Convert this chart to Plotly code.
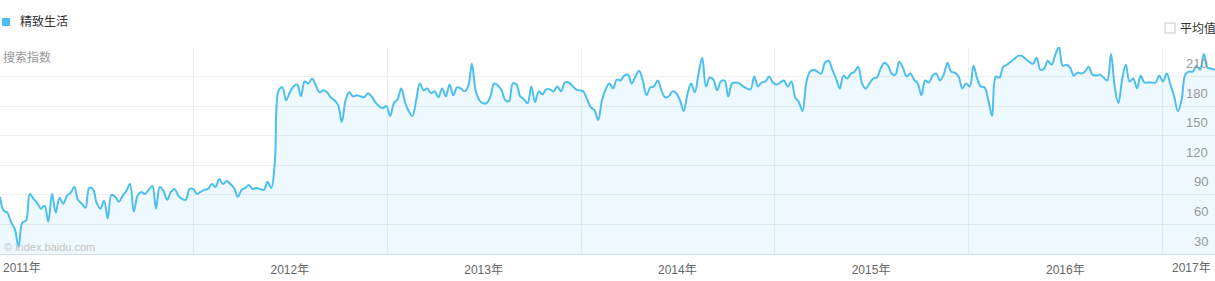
import pandas as pd
import plotly.graph_objects as go

series_name = "精致生活"
start_date = "2011-01-02"
values = [
    88, 74, 72, 62, 55, 37, 62, 64, 91, 86, 82, 76, 79, 63, 91, 72, 87, 81, 89, 92,
    98, 85, 81, 77, 97, 96, 82, 76, 84, 66, 90, 88, 83, 89, 94, 101, 73, 89, 93, 91,
    95, 99, 76, 98, 94, 85, 93, 96, 89, 86, 85, 96, 96, 91, 93, 95, 96, 101, 98, 106,
    101, 104, 101, 97, 88, 95, 97, 100, 96, 97, 96, 95, 103, 97, 125, 196, 199, 186, 194, 200,
    202, 190, 205, 203, 208, 201, 194, 196, 194, 189, 186, 181, 164, 186, 194, 190, 191, 190, 189, 193,
    190, 184, 180, 178, 180, 170, 183, 187, 198, 184, 175, 170, 186, 203, 196, 198, 193, 195, 189, 198,
    190, 202, 191, 199, 198, 195, 200, 223, 196, 186, 183, 183, 190, 203, 201, 196, 186, 185, 203, 202,
    190, 187, 183, 200, 184, 195, 192, 197, 197, 195, 200, 195, 204, 204, 201, 197, 196, 195, 187, 179,
    176, 166, 186, 197, 203, 198, 207, 206, 211, 212, 203, 210, 216, 206, 191, 199, 200, 206, 196, 189,
    190, 195, 193, 186, 175, 192, 203, 194, 213, 229, 200, 209, 207, 196, 205, 206, 190, 203, 204, 203,
    200, 198, 197, 210, 200, 204, 205, 210, 204, 202, 204, 206, 200, 205, 189, 184, 175, 204, 215, 217,
    215, 213, 224, 226, 217, 208, 198, 211, 208, 213, 215, 220, 203, 198, 203, 208, 209, 218, 224, 221,
    213, 212, 225, 219, 210, 213, 207, 203, 191, 206, 204, 211, 213, 206, 212, 224, 215, 214, 210, 198,
    203, 200, 221, 208, 200, 199, 186, 170, 210, 209, 220, 222, 225, 228, 231, 231, 228, 225, 223, 229,
    217, 218, 226, 222, 232, 240, 221, 222, 219, 211, 214, 213, 215, 220, 212, 211, 212, 209, 206, 233,
    200, 183, 207, 222, 205, 208, 198, 211, 204, 204, 204, 204, 211, 205, 213, 202, 190, 175, 186, 212,
    215, 215, 221, 217, 233, 219, 218, 217,
]
dates = pd.date_range(start_date, periods=len(values), freq="7D")

y_ticks = [30, 60, 90, 120, 150, 180, 210]
grid_vals = [30, 60, 90, 120, 150, 180, 210, 240]
year_grid = ["2012-01-01", "2013-01-01", "2014-01-01", "2015-01-01", "2016-01-01", "2017-01-01"]
year_label_pos = ["2012-07-01", "2013-07-01", "2014-07-01", "2015-07-01", "2016-07-01"]
year_label_text = ["2012年", "2013年", "2014年", "2015年", "2016年"]
first_label = "2011年"
last_label = "2017年"

LINE = "#4dbfee"
FONT = "Liberation Sans, Arial, Noto Sans CJK SC, sans-serif"
W, H = 1215, 281
T, B = 47, 27
PH = H - T - B


def py(y):
    return (H - B - y) / PH


fig = go.Figure()
fig.add_trace(go.Scatter(
    x=dates, y=values, mode="lines",
    line=dict(color=LINE, width=2, shape="spline", smoothing=1.0),
    fill="tozeroy", fillcolor="rgba(90,200,242,0.11)",
    hoverinfo="skip", showlegend=False,
))

fig.update_layout(
    width=W, height=H,
    margin=dict(l=0, r=0, t=T, b=B),
    paper_bgcolor="white", plot_bgcolor="white",
    font=dict(family=FONT, size=12, color="#333"),
    xaxis=dict(
        range=[dates[0], dates[-1]],
        tickvals=year_label_pos, ticktext=year_label_text,
        showgrid=False, ticks="", zeroline=False,
        tickfont=dict(size=12, color="#666"),
        ticklabelstandoff=5,
        showline=True, linecolor="#cfe0e8", linewidth=1,
        minor=dict(tickvals=year_grid, showgrid=True, gridcolor="#efefef", gridwidth=1, ticks=""),
    ),
    yaxis=dict(
        range=[30, 240], side="right",
        tickvals=grid_vals, showticklabels=False,
        showgrid=True, gridcolor="#efefef", gridwidth=1,
        zeroline=False, ticks="",
    ),
)

# y tick labels (sit above their gridline, inside the plot on the right)
for v in y_ticks:
    fig.add_annotation(x=1, xref="paper", xanchor="right", xshift=-5,
                       y=v, yref="y", yanchor="middle", yshift=13,
                       text=str(v), showarrow=False,
                       font=dict(size=13, color="#999"))

# first / last x labels
fig.add_annotation(x=0, xref="paper", xanchor="left", xshift=1,
                   y=py(268), yref="paper", yanchor="middle",
                   text=first_label, showarrow=False, font=dict(size=12, color="#666"))
fig.add_annotation(x=1, xref="paper", xanchor="right", xshift=-2,
                   y=py(268), yref="paper", yanchor="middle",
                   text=last_label, showarrow=False, font=dict(size=12, color="#666"))

# legend
fig.add_shape(type="rect", xref="paper", yref="paper",
              x0=2 / W, x1=10 / W, y0=py(26), y1=py(18),
              fillcolor=LINE, line=dict(width=0))
fig.add_annotation(x=18 / W, xref="paper", xanchor="left", y=py(22), yref="paper",
                   yanchor="middle", text=series_name, showarrow=False,
                   font=dict(size=12, color="#333"))

# average checkbox
fig.add_shape(type="rect", xref="paper", yref="paper",
              x0=1165 / W, x1=1175 / W, y0=py(33), y1=py(23),
              fillcolor="white", line=dict(color="#c8c8c8", width=1))
fig.add_annotation(x=1178 / W, xref="paper", xanchor="left", y=py(28), yref="paper",
                   yanchor="middle", text="平均值", showarrow=False,
                   font=dict(size=12, color="#333"))

# y axis title
fig.add_annotation(x=1 / W, xref="paper", xanchor="left", y=py(57), yref="paper",
                   yanchor="middle", text="搜索指数", showarrow=False,
                   font=dict(size=12, color="#999"))

# watermark
fig.add_annotation(x=2 / W, xref="paper", xanchor="left", y=py(247), yref="paper",
                   yanchor="middle", text="© index.baidu.com", showarrow=False,
                   font=dict(size=11, color="#c4c4c4"))

fig.write_html("out.html", config={"displayModeBar": False})
